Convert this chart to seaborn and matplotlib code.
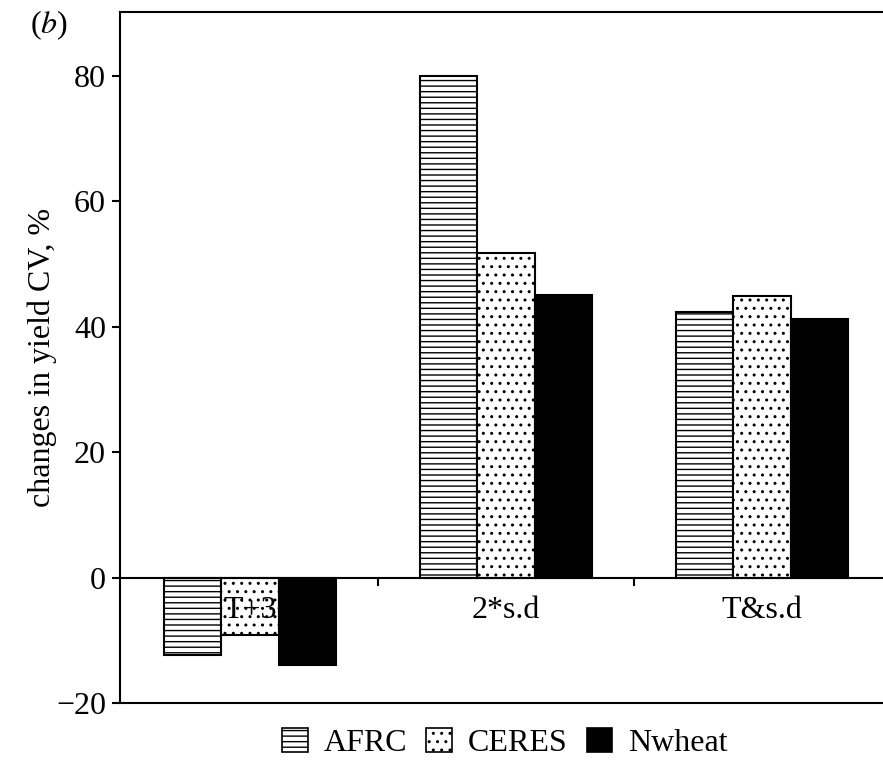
import matplotlib
matplotlib.use("Agg")
import matplotlib.pyplot as plt
import seaborn as sns
import pandas as pd
from matplotlib.patches import Patch

scenarios = ["T+3", "2*s.d", "T&s.d"]
models = ["AFRC", "CERES", "Nwheat"]
afrc = [-12.3, 80.0, 42.4]
ceres = [-9.2, 51.8, 44.9]
nwheat = [-14.0, 45.1, 41.3]
yticks = [-20, 0, 20, 40, 60, 80]
ylabel = "changes in yield CV, %"
panel = "($\\it{b}$)"

rows = []
for m, vals in zip(models, [afrc, ceres, nwheat]):
    for s, v in zip(scenarios, vals):
        rows.append({"scenario": s, "model": m, "value": v})
df = pd.DataFrame(rows)

sns.set_style("ticks")
plt.rcParams["font.family"] = ["Liberation Serif", "DejaVu Serif"]
plt.rcParams["mathtext.fontset"] = "stix"
plt.rcParams["hatch.linewidth"] = 1.0
plt.rcParams["hatch.color"] = "black"
plt.rcParams["text.color"] = "black"
plt.rcParams["axes.labelcolor"] = "black"
plt.rcParams["xtick.color"] = "black"
plt.rcParams["ytick.color"] = "black"

fig = plt.figure(figsize=(8.83, 7.6), dpi=100)
ax = fig.add_axes([120 / 883, 1 - 703 / 760, 772 / 883, (703 - 12) / 760])

face = {"AFRC": "white", "CERES": "white", "Nwheat": "black"}
hatches = {"AFRC": "---", "CERES": "..", "Nwheat": ""}
sns.barplot(data=df, x="scenario", y="value", hue="model", order=scenarios,
            hue_order=models, palette=face, edgecolor="black", linewidth=1.5,
            width=0.67, ax=ax, legend=False, saturation=1)

for cont, m in zip(ax.containers, models):
    for p in cont.patches:
        p.set_hatch(hatches[m])

ax.axhline(0, color="black", lw=1.5, zorder=5)
ax.vlines([0.5, 1.5], -1.4, 0, color="black", lw=1.5, zorder=5)

ax.set_xlim(-0.508, 2.508)
ax.set_ylim(-20, 90.2)
ax.set_yticks(yticks)
ax.set_yticklabels([str(t).replace("-", "\u2212") for t in yticks], fontsize=23, color="black")
ax.set_xticks([])
ax.set_xlabel("")
ax.tick_params(axis="y", length=6, width=1.5, direction="out", pad=4, colors="black")
for s in ax.spines.values():
    s.set_linewidth(1.5)
    s.set_color("black")

for i, s in enumerate(scenarios):
    ax.text(i, -5.2, s, ha="center", va="center", fontsize=23, color="black", zorder=6)

ax.set_ylabel(ylabel, fontsize=23, color="black")
ax.yaxis.set_label_coords(-0.082, 0.5)

fig.text(30 / 883, 1 - 25 / 760, panel, fontsize=23, ha="left", va="center", color="black")

handles = [Patch(facecolor=face[m], edgecolor="black", hatch=hatches[m], lw=1.2) for m in models]
fig.legend(handles, models, loc="center", bbox_to_anchor=(505 / 883, 1 - 743 / 760),
           ncol=3, frameon=False, fontsize=23, handlelength=0.8, handleheight=0.8,
           handletextpad=0.5, columnspacing=0.6, borderaxespad=0, borderpad=0,
           labelcolor="black")

fig.savefig("out.png", dpi=100)
